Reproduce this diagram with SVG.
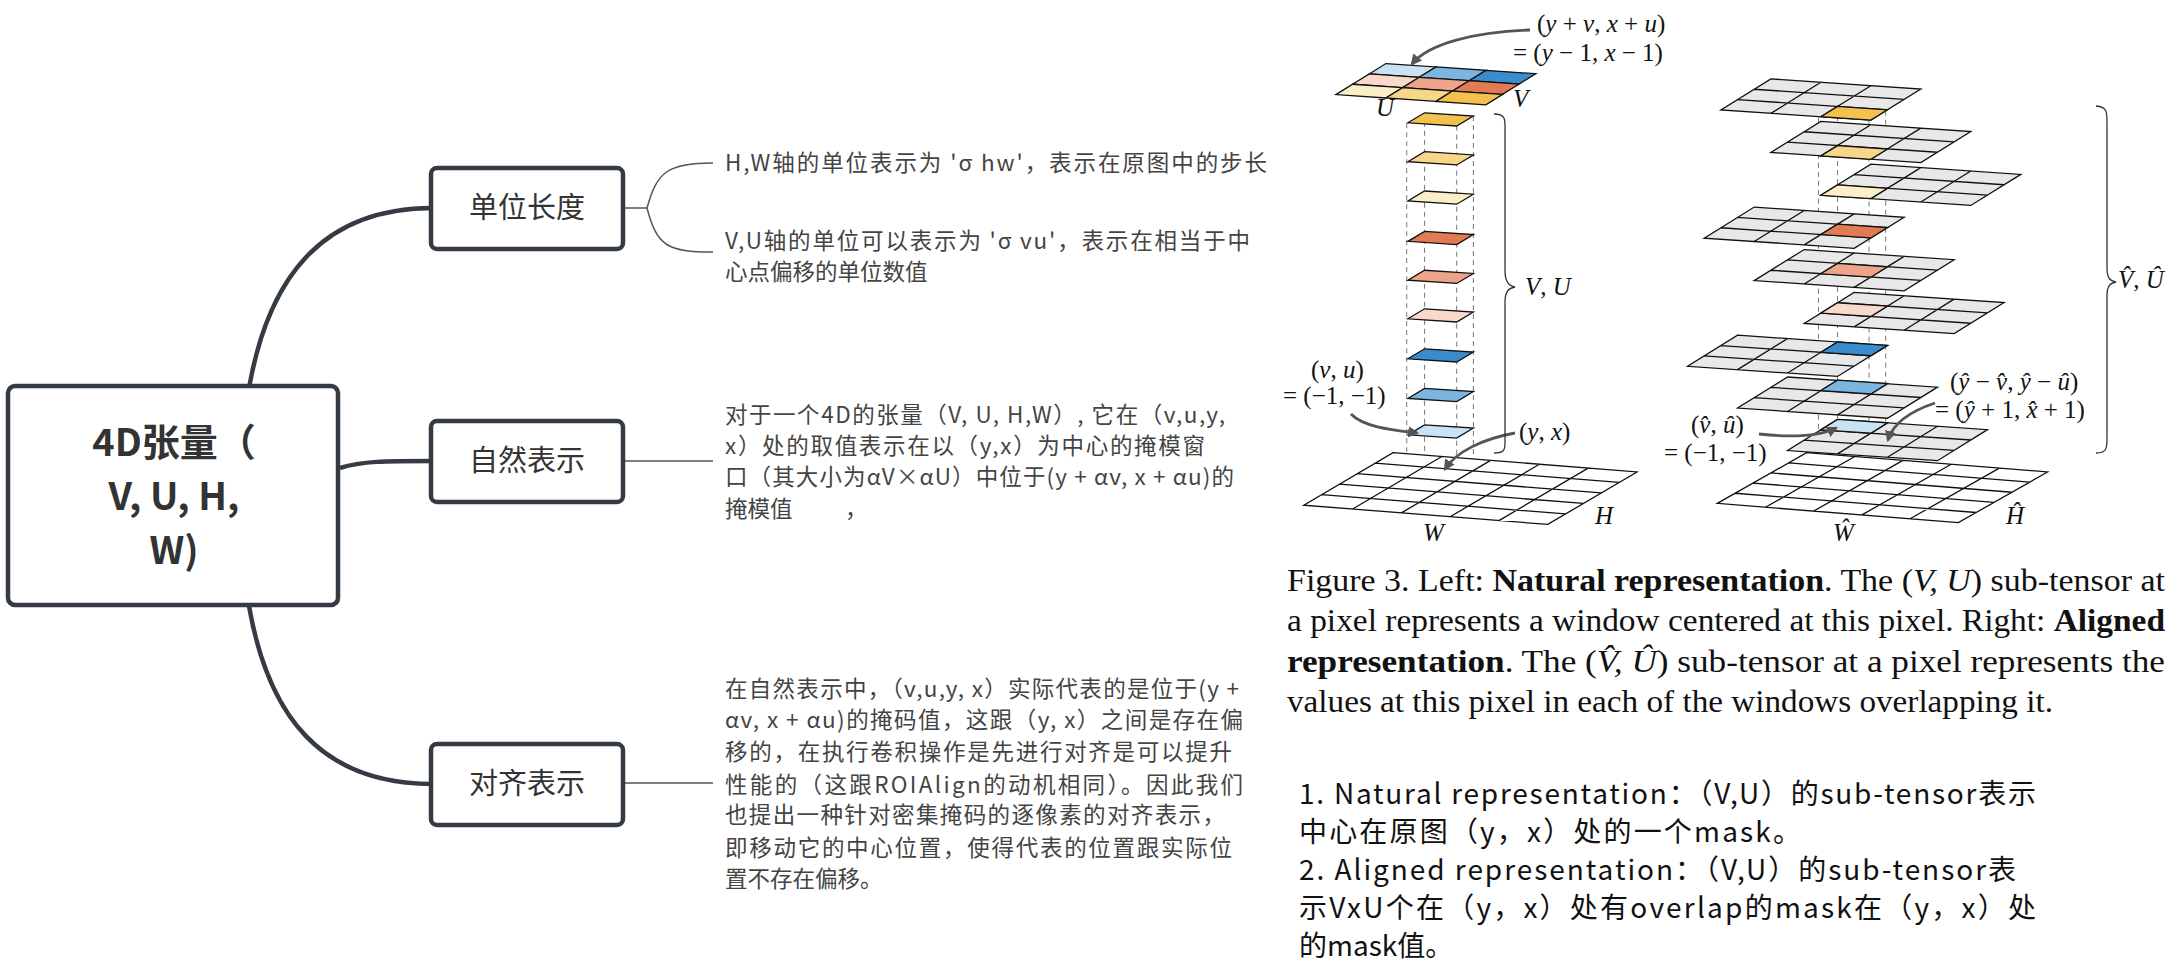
<svg xmlns="http://www.w3.org/2000/svg" width="2183" height="965" viewBox="0 0 2183 965">
<style>
.node rect{fill:#fff;stroke:#353b42;stroke-width:4.5}
.ntxt{font-family:"Noto Sans CJK SC",sans-serif;font-size:29px;fill:#333;text-anchor:middle}
.ctxt{font-family:"Noto Sans CJK SC",sans-serif;font-size:38px;font-weight:bold;fill:#333;text-anchor:middle}
.br{fill:none;stroke:#353b42;stroke-width:4.5}
.tl{fill:none;stroke:#555;stroke-width:1.5}
.note{font-family:"Noto Sans CJK SC",sans-serif;font-size:22.5px;fill:#444}
.g{fill:#e8e8e8;stroke:#111;stroke-width:1.3}
.w{fill:#fff;stroke:#111;stroke-width:1.3}
.c{stroke:#111;stroke-width:1.3}
.dash{stroke:#777;stroke-width:1;stroke-dasharray:5 4;vector-effect:non-scaling-stroke}
.m{font-family:"Liberation Serif",serif;font-size:25px;font-style:italic;fill:#111}
.mn{font-family:"Liberation Serif",serif;font-size:25px;fill:#111}
.ar{fill:none;stroke:#555;stroke-width:2.8;marker-end:url(#ah)}
.brace{fill:none;stroke:#333;stroke-width:1.3}
.cap{font-family:"Liberation Serif",serif;font-size:32.5px;fill:#111}
.lst{font-family:"Noto Sans CJK SC",sans-serif;font-size:28px;fill:#111}
</style>
<defs>
<marker id="ah" viewBox="0 0 10 10" refX="8" refY="5" markerWidth="4" markerHeight="4" orient="auto"><path d="M0,0 L10,5 L0,10 Z" fill="#555"/></marker>
<g id="cell"><path d="M0,0 H1 V1 H0 Z" vector-effect="non-scaling-stroke"/></g>
<g id="g3"><path d="M0,0 H3 V3 H0 Z M0,1 H3 M0,2 H3 M1,0 V3 M2,0 V3" vector-effect="non-scaling-stroke"/></g>
<g id="g5"><path d="M0,0 H5 V5 H0 Z M0,1 H5 M0,2 H5 M0,3 H5 M0,4 H5 M1,0 V5 M2,0 V5 M3,0 V5 M4,0 V5" vector-effect="non-scaling-stroke"/></g>
</defs>

<g id="connectors">
<path class="br" d="M249,388 C268,280 320,208 433,208"/>
<path class="br" d="M340,468 C362,461 385,461 433,461"/>
<path class="br" d="M249,606 C268,715 320,784 433,784"/>
<path class="tl" d="M623,208 H647 M647,208 C657,172 667,163 713,163 M647,208 C657,246 667,252 713,252"/>
<path class="tl" d="M623,461 H713"/>
<path class="tl" d="M623,783 H713"/>
</g>

<g id="center" class="node"><rect x="8" y="386" width="330" height="219" rx="7"/>
<text class="ctxt" x="174" y="456">4D张量（</text><text class="ctxt" x="174" y="510">V, U, H,</text><text class="ctxt" x="174" y="564">W)</text></g>
<g id="n1" class="node"><rect x="431" y="168" width="192" height="81" rx="6"/><text class="ntxt" x="527" y="218">单位长度</text></g>
<g id="n2" class="node"><rect x="431" y="421" width="192" height="81" rx="6"/><text class="ntxt" x="527" y="471">自然表示</text></g>
<g id="n3" class="node"><rect x="431" y="744" width="192" height="81" rx="6"/><text class="ntxt" x="527" y="794">对齐表示</text></g>

<g id="t1" class="note">
<text x="725" y="171" textLength="542">H,W轴的单位表示为 'σ hw'，表示在原图中的步长</text>
<text x="725" y="249" textLength="525">V,U轴的单位可以表示为 'σ vu'，表示在相当于中</text>
<text x="725" y="280">心点偏移的单位数值</text>
</g>
<g id="t2" class="note">
<text x="725" y="423" textLength="500">对于一个4D的张量（V, U, H,W）, 它在（v,u,y,</text>
<text x="725" y="454" textLength="480">x）处的取值表示在以（y,x）为中心的掩模窗</text>
<text x="725" y="485" textLength="509">口（其大小为αV×αU）中位于(y + αv, x + αu)的</text>
<text x="725" y="517">掩模值</text><text x="845" y="517">，</text>
</g>
<g id="t3" class="note">
<text x="725" y="697" textLength="514">在自然表示中，（v,u,y, x）实际代表的是位于(y +</text>
<text x="725" y="728" textLength="518">αv, x + αu)的掩码值，这跟（y, x）之间是存在偏</text>
<text x="725" y="760" textLength="507">移的，在执行卷积操作是先进行对齐是可以提升</text>
<text x="725" y="793" textLength="518">性能的（这跟ROIAlign的动机相同）。因此我们</text>
<text x="725" y="823" textLength="500">也提出一种针对密集掩码的逐像素的对齐表示，</text>
<text x="725" y="856" textLength="507">即移动它的中心位置，使得代表的位置跟实际位</text>
<text x="725" y="887">置不存在偏移。</text>
</g>

<g id="figure-shapes" transform="translate(1280,0) scale(0.595,0.357)">
<g class="c">
<use href="#cell" transform="matrix(84 9.5 -28 29 178 178)" fill="#c9e2f4"/>
<use href="#cell" transform="matrix(84 9.5 -28 29 262 187.5)" fill="#7bb6e0"/>
<use href="#cell" transform="matrix(84 9.5 -28 29 346 197)" fill="#3a8ccc"/>
<use href="#cell" transform="matrix(84 9.5 -28 29 150 207)" fill="#f9d9cc"/>
<use href="#cell" transform="matrix(84 9.5 -28 29 234 216.5)" fill="#eda48a"/>
<use href="#cell" transform="matrix(84 9.5 -28 29 318 226)" fill="#e07b54"/>
<use href="#cell" transform="matrix(84 9.5 -28 29 122 236)" fill="#fcefc7"/>
<use href="#cell" transform="matrix(84 9.5 -28 29 206 245.5)" fill="#f7d68a"/>
<use href="#cell" transform="matrix(84 9.5 -28 29 290 255)" fill="#f2c14e"/>
</g>
<path class="dash" d="M213,345 V1300 M243,316 V1300 M297,352 V1300 M325,325 V1300"/>
<g class="c">
<use href="#cell" transform="matrix(82 9 -28 28 243 316)" fill="#f2c14e"/>
<use href="#cell" transform="matrix(82 9 -28 28 243 425)" fill="#f7d68a"/>
<use href="#cell" transform="matrix(82 9 -28 28 243 535)" fill="#fcefc7"/>
<use href="#cell" transform="matrix(82 9 -28 28 243 648)" fill="#e07b54"/>
<use href="#cell" transform="matrix(82 9 -28 28 243 757)" fill="#eda48a"/>
<use href="#cell" transform="matrix(82 9 -28 28 243 865)" fill="#f9d9cc"/>
<use href="#cell" transform="matrix(82 9 -28 28 243 977)" fill="#3a8ccc"/>
<use href="#cell" transform="matrix(82 9 -28 28 243 1088)" fill="#7bb6e0"/>
<use href="#cell" transform="matrix(82 9 -28 28 243 1190)" fill="#c9e2f4"/>
</g>
<use class="w" href="#g5" transform="matrix(82 10.8 -30 29.4 190 1268)"/>
<path class="dash" d="M905,330 V1340 M937,300 V1300 M990,338 V1340 M1018,310 V1310"/>
<g class="g">
<use href="#g3" transform="matrix(84 9.5 -28 29 825 221)"/>
<use href="#cell" transform="matrix(84 9.5 -28 29 937 298)" fill="#f2c14e"/>
<use href="#g3" transform="matrix(84 9.5 -28 29 909 340)"/>
<use href="#cell" transform="matrix(84 9.5 -28 29 937 408)" fill="#f7d68a"/>
<use href="#g3" transform="matrix(84 9.5 -28 29 993 460)"/>
<use href="#cell" transform="matrix(84 9.5 -28 29 937 518)" fill="#fcefc7"/>
<use href="#g3" transform="matrix(84 9.5 -28 29 797 580)"/>
<use href="#cell" transform="matrix(84 9.5 -28 29 937 628)" fill="#e07b54"/>
<use href="#g3" transform="matrix(84 9.5 -28 29 881 699)"/>
<use href="#cell" transform="matrix(84 9.5 -28 29 937 738)" fill="#eda48a"/>
<use href="#g3" transform="matrix(84 9.5 -28 29 965 819)"/>
<use href="#cell" transform="matrix(84 9.5 -28 29 937 848)" fill="#f9d9cc"/>
<use href="#g3" transform="matrix(84 9.5 -28 29 769 939)"/>
<use href="#cell" transform="matrix(84 9.5 -28 29 937 958)" fill="#3a8ccc"/>
<use href="#g3" transform="matrix(84 9.5 -28 29 853 1056)"/>
<use href="#cell" transform="matrix(84 9.5 -28 29 937 1065)" fill="#7bb6e0"/>
<use href="#g3" transform="matrix(84 9.5 -28 29 937 1175)"/>
<use href="#cell" transform="matrix(84 9.5 -28 29 937 1175)" fill="#c9e2f4"/>
</g>
<use class="w" href="#g5" transform="matrix(81 10.8 -30 28.4 885 1268)"/>
</g>

<g id="figure-labels">
<text class="m" x="1376" y="116">U</text><text class="m" x="1513" y="107">V</text>
<text class="m" x="1423" y="541">W</text><text class="m" x="1595" y="524">H</text>
<text class="mn" x="1537" y="32">(<tspan class="m">y</tspan> + <tspan class="m">v</tspan>, <tspan class="m">x</tspan> + <tspan class="m">u</tspan>)</text>
<text class="mn" x="1513" y="61">= (<tspan class="m">y</tspan> − 1, <tspan class="m">x</tspan> − 1)</text>
<text class="mn" x="1525" y="295"><tspan class="m">V</tspan>, <tspan class="m">U</tspan></text>
<text class="mn" x="1311" y="378">(<tspan class="m">v</tspan>, <tspan class="m">u</tspan>)</text>
<text class="mn" x="1283" y="404">= (−1, −1)</text>
<text class="mn" x="1519" y="440">(<tspan class="m">y</tspan>, <tspan class="m">x</tspan>)</text>
<text class="m" x="1833" y="541">W&#770;</text><text class="m" x="2006" y="524">Ĥ</text>
<text class="mn" x="2118" y="288"><tspan class="m">V&#770;</tspan>, <tspan class="m">Û</tspan></text>
<text class="mn" x="1950" y="390">(<tspan class="m">ŷ</tspan> − <tspan class="m">v&#770;</tspan>, <tspan class="m">ŷ</tspan> − <tspan class="m">u&#770;</tspan>)</text>
<text class="mn" x="1935" y="418">= (<tspan class="m">ŷ</tspan> + 1, <tspan class="m">x&#770;</tspan> + 1)</text>
<text class="mn" x="1691" y="433">(<tspan class="m">v&#770;</tspan>, <tspan class="m">u&#770;</tspan>)</text>
<text class="mn" x="1664" y="461">= (−1, −1)</text>
</g>
<g id="figure-arrows">
<path class="ar" d="M1530,30 C1476,32 1429,43 1412,64"/>
<path class="ar" d="M1351,414 C1363,427 1393,430 1417,433"/>
<path class="ar" d="M1515,433 C1482,439 1456,452 1445,469"/>
<path class="ar" d="M1759,434 C1786,437 1818,437 1836,428"/>
<path class="ar" d="M1935,403 C1911,411 1893,423 1888,440"/>
<path class="brace" d="M1494,114 C1506,114 1505,120 1505,129 V271 C1505,282 1509,286 1515,287 C1509,288 1505,291 1505,302 V443 C1505,451 1503,453 1494,453"/>
<path class="brace" d="M2096,106 C2107,107 2107,112 2107,121 V268 C2107,278 2110,281 2116,282 C2110,283 2107,286 2107,296 V439 C2107,449 2106,453 2096,453"/>
</g>

<g id="caption" class="cap">
<text x="1287" y="591" textLength="878" lengthAdjust="spacingAndGlyphs">Figure 3. Left: <tspan font-weight="bold">Natural representation</tspan>. The (<tspan font-style="italic">V, U</tspan>) sub-tensor at</text>
<text x="1287" y="631" textLength="878" lengthAdjust="spacingAndGlyphs">a pixel represents a window centered at this pixel. Right: <tspan font-weight="bold">Aligned</tspan></text>
<text x="1287" y="672" textLength="878" lengthAdjust="spacingAndGlyphs"><tspan font-weight="bold">representation</tspan>. The (<tspan font-style="italic">V&#770;, Û</tspan>) sub-tensor at a pixel represents the</text>
<text x="1287" y="712" textLength="766" lengthAdjust="spacingAndGlyphs">values at this pixel in each of the windows overlapping it.</text>
</g>
<g id="list" class="lst">
<text x="1299" y="804" textLength="737">1. Natural representation：（V,U）的sub-tensor表示</text>
<text x="1299" y="842" textLength="502">中心在原图（y，x）处的一个mask。</text>
<text x="1299" y="880" textLength="717">2. Aligned representation：（V,U）的sub-tensor表</text>
<text x="1299" y="918" textLength="737">示VxU个在（y，x）处有overlap的mask在（y，x）处</text>
<text x="1299" y="956">的mask值。</text>
</g>
</svg>
